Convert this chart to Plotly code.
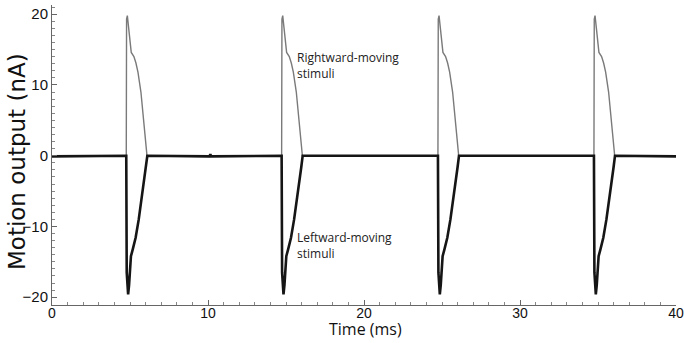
import plotly.graph_objects as go

# Rightward-moving stimuli response (thin gray trace)
right_t = [0.0, 4.75,
           4.76, 4.78, 4.83, 5.08, 5.25, 5.38, 5.51, 5.70, 5.84, 5.97, 6.09,
           10.10, 10.15, 10.20,
           14.71,
           14.72, 14.74, 14.79, 15.04, 15.21, 15.34, 15.47, 15.66, 15.80, 15.93, 16.05,
           24.73,
           24.74, 24.76, 24.81, 25.06, 25.23, 25.36, 25.49, 25.68, 25.82, 25.95, 26.07,
           34.73,
           34.74, 34.76, 34.81, 35.06, 35.23, 35.36, 35.49, 35.68, 35.82, 35.95, 36.07,
           40.0]
right_v = [-0.1, -0.1,
           0.0, 19.3, 19.8, 14.6, 14.0, 13.1, 11.8, 9.0, 5.7, 2.5, 0.0,
           -0.1, 0.2, -0.1,
           -0.1,
           0.0, 19.3, 19.8, 14.6, 14.0, 13.1, 11.8, 9.0, 5.7, 2.5, 0.0,
           -0.1,
           0.0, 19.3, 19.8, 14.6, 14.0, 13.1, 11.8, 9.0, 5.7, 2.5, 0.0,
           -0.1,
           0.0, 19.3, 19.8, 14.6, 14.0, 13.1, 11.8, 9.0, 5.7, 2.5, 0.0,
           -0.1]

# Leftward-moving stimuli response (thick black trace)
left_t = [0.0, 4.75,
          4.76, 4.79, 4.88, 4.94, 5.06, 5.18, 5.36, 5.56, 5.74, 5.89, 6.02, 6.11,
          10.10, 10.15, 10.20,
          14.71,
          14.72, 14.75, 14.84, 14.90, 15.02, 15.14, 15.32, 15.52, 15.70, 15.85, 15.98, 16.07,
          24.73,
          24.74, 24.77, 24.86, 24.92, 25.04, 25.16, 25.34, 25.54, 25.72, 25.87, 26.00, 26.09,
          34.73,
          34.74, 34.77, 34.86, 34.92, 35.04, 35.16, 35.34, 35.54, 35.72, 35.87, 36.00, 36.09,
          40.0]
left_v = [-0.1, -0.1,
          0.0, -16.5, -19.6, -18.3, -14.2, -13.2, -11.6, -9.0, -6.3, -3.9, -1.6, 0.0,
          -0.1, 0.2, -0.1,
          -0.1,
          0.0, -16.5, -19.6, -18.3, -14.2, -13.2, -11.6, -9.0, -6.3, -3.9, -1.6, 0.0,
          -0.1,
          0.0, -16.5, -19.6, -18.3, -14.2, -13.2, -11.6, -9.0, -6.3, -3.9, -1.6, 0.0,
          -0.1,
          0.0, -16.5, -19.6, -18.3, -14.2, -13.2, -11.6, -9.0, -6.3, -3.9, -1.6, 0.0,
          -0.1]

x_ticks = [0, 10, 20, 30, 40]
y_ticks = [-20, -10, 0, 10, 20]

fig = go.Figure()
fig.add_trace(go.Scatter(x=right_t, y=right_v, mode="lines",
                         line=dict(color="#7a7a7a", width=1.4), showlegend=False))
fig.add_trace(go.Scatter(x=left_t, y=left_v, mode="lines",
                         line=dict(color="#151515", width=2.6), showlegend=False))

fig.add_annotation(x=15.6, y=12.8, xref="x", yref="y", xanchor="left", yanchor="middle",
                   text="Rightward-moving<br>stimuli", showarrow=False, align="left",
                   font=dict(family="Open Sans", size=12, color="#222"))
fig.add_annotation(x=15.6, y=-12.7, xref="x", yref="y", xanchor="left", yanchor="middle",
                   text="Leftward-moving<br>stimuli", showarrow=False, align="left",
                   font=dict(family="Open Sans", size=12, color="#222"))

# axis titles placed as annotations
fig.add_annotation(x=0.502, y=-0.123, xref="paper", yref="paper", xanchor="center", yanchor="bottom",
                   text="Time (ms)", showarrow=False,
                   font=dict(family="Open Sans", size=16, color="#111"))
fig.add_annotation(x=-0.057, y=0.478, xref="paper", yref="paper", xanchor="center", yanchor="middle",
                   text="Motion output (nA)", showarrow=False, textangle=-90,
                   font=dict(family="DejaVu Sans", size=23, color="#111"))

fig.update_layout(
    width=684, height=343,
    margin=dict(l=52, r=8, t=5, b=38, autoexpand=False),
    paper_bgcolor="white", plot_bgcolor="white",
    xaxis=dict(range=[0, 40], tickvals=x_ticks, ticks="inside", ticklen=5,
               tickcolor="#666", showline=True, linecolor="#666", linewidth=1,
               showgrid=False, zeroline=False, automargin=False,
               ticklabeloverflow="allow", ticklabelstandoff=-5,
               tickfont=dict(family="Liberation Sans", size=14, color="#111"),
               minor=dict(dtick=1, ticks="inside", ticklen=3, tickcolor="#888", showgrid=False)),
    yaxis=dict(range=[-21.1, 21.3], tickvals=y_ticks, ticks="inside", ticklen=5,
               tickcolor="#666", showline=True, linecolor="#666", linewidth=1,
               showgrid=False, zeroline=False, automargin=False,
               tickfont=dict(family="Liberation Sans", size=15, color="#111"),
               minor=dict(dtick=1, ticks="inside", ticklen=3, tickcolor="#888", showgrid=False)),
)

fig.write_html("out.html", config={"displayModeBar": False},
               post_script="document.body.style.margin='0';document.body.style.overflow='hidden';")
